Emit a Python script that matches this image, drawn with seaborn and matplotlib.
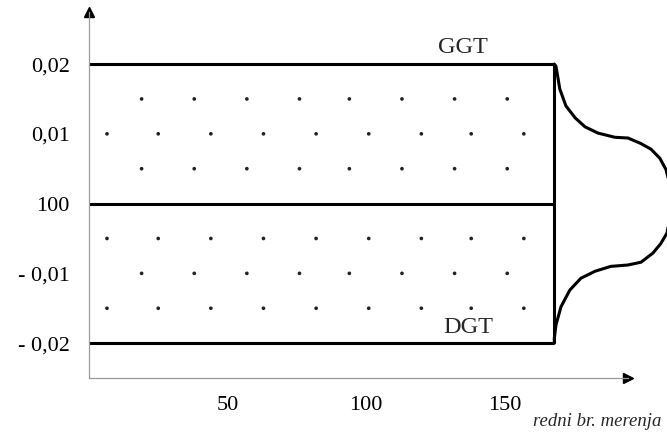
import numpy as np
import pandas as pd
import matplotlib
matplotlib.use("Agg")
import matplotlib.pyplot as plt
import seaborn as sns

# --- data ---
# control limits (deviation from nominal 100)
ggt = 0.02
dgt = -0.02
center = 0.0
last_sample = 168

# grid of measurement points (two staggered rows patterns)
rows_a_levels = [0.015, 0.005, -0.01]
rows_b_levels = [0.01, -0.005, -0.015]
rows_a_x = [19, 38, 57, 76, 94, 113, 132, 151]
rows_b_x = [6.5, 25, 44, 63, 82, 101, 120, 138, 157]

# distribution curve drawn to the right of the chart
bell_x = [168, 168.6, 170.0, 172.2, 175.5, 179.1, 183.8, 189.9, 194.6, 199.3,
          202.9, 206.1, 208.3, 209.7, 210.5, 209.7, 208.7, 206.5, 203.6, 199.3,
          194.6, 188.4, 182.7, 177.6, 173.6, 170.4, 168.6, 168, 168]
bell_y = [0.0200, 0.0197, 0.0164, 0.0140, 0.0123, 0.0110, 0.0101, 0.0095, 0.0094, 0.0086,
          0.0078, 0.0065, 0.0049, 0.0027, 0.0004, -0.0019, -0.0042, -0.0057, -0.0071, -0.0084,
          -0.0088, -0.0090, -0.0097, -0.0107, -0.0124, -0.0148, -0.0174, -0.0193, -0.0200]

x_ticks = [50, 100, 150]
y_ticks = [0.02, 0.01, 0.0, -0.01, -0.02]
y_tick_labels = ["0,02", "0,01", "100", "- 0,01", "- 0,02"]

# --- style ---
sns.set_theme(style="white")
plt.rcParams["font.family"] = ["Liberation Serif", "DejaVu Serif"]

fig = plt.figure(figsize=(6.67, 4.43), dpi=100)
ax = fig.add_axes([0.1334, 0.1467, 0.8081, 0.8262])

# dots
dots = pd.DataFrame(
    [(x, y) for y in rows_a_levels for x in rows_a_x]
    + [(x, y) for y in rows_b_levels for x in rows_b_x],
    columns=["n", "dev"],
)
sns.scatterplot(data=dots, x="n", y="dev", ax=ax, color="#222222", s=7,
                edgecolor="none", legend=False)

# control box
lw = 2.2
ax.hlines([ggt, center, dgt], 0, last_sample, color="black", lw=lw)
ax.vlines(last_sample, dgt, ggt, color="black", lw=lw)

# distribution curve
sns.lineplot(x=bell_x, y=bell_y, sort=False, estimator=None, ax=ax,
             color="black", lw=lw, clip_on=False)

ax.text(135, ggt + 0.0008, "GGT", ha="center", va="bottom", fontsize=17.5)
ax.text(137, dgt + 0.0008, "DGT", ha="center", va="bottom", fontsize=17.5)

# axes
ax.set_xlim(0, 194.6)
ax.set_ylim(-0.025, 0.02746)
for side in ["top", "right"]:
    ax.spines[side].set_visible(False)
for side in ["left", "bottom"]:
    ax.spines[side].set_color("#9a9a9a")
    ax.spines[side].set_linewidth(0.9)

ax.set_xticks(x_ticks)
ax.set_xticklabels([str(t) for t in x_ticks])
ax.set_yticks(y_ticks)
ax.set_yticklabels(y_tick_labels)
ax.tick_params(axis="both", labelsize=16, colors="black", direction="inout",
               length=6, width=0.8, color="#9a9a9a")
ax.tick_params(axis="y", pad=11)
ax.tick_params(axis="x", pad=10)

ax.set_xlabel("redni br. merenja", fontsize=13.5, style="italic")
ax.xaxis.set_label_coords(0.942, -0.096)
ax.set_ylabel("")

# arrow heads
ax.plot(1, 0, ">", color="black", ms=7, transform=ax.transAxes, clip_on=False)
ax.plot(0, 1, "^", color="black", ms=7, transform=ax.transAxes, clip_on=False)

plt.savefig("out.png", dpi=100)
